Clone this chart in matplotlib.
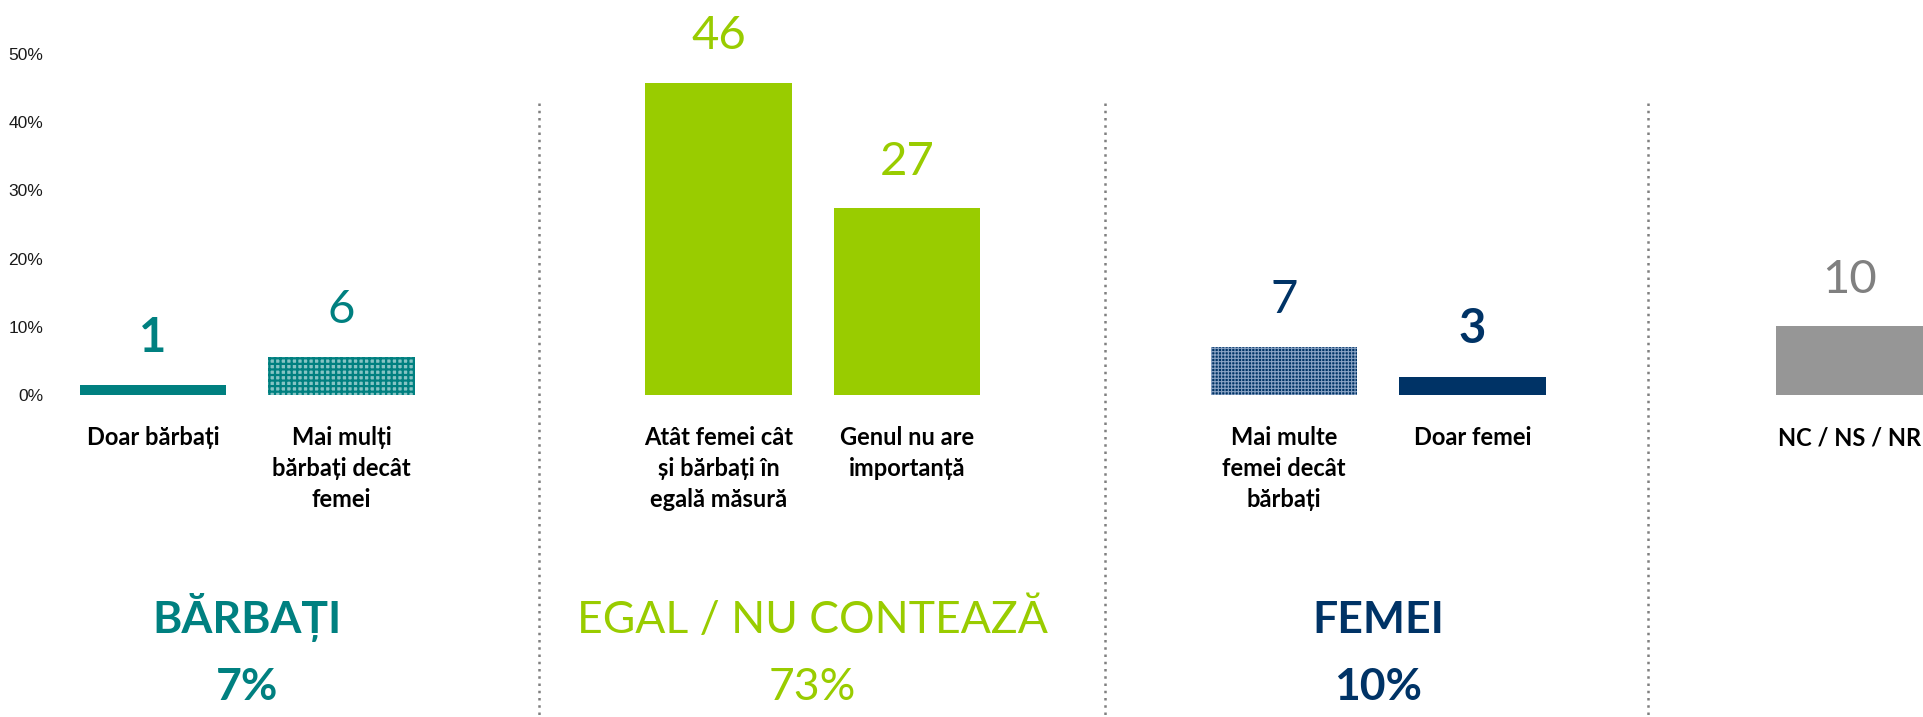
import matplotlib
matplotlib.use("Agg")
import matplotlib.pyplot as plt
import matplotlib.transforms as mtransforms
from matplotlib.lines import Line2D

# ---------------- data ----------------
categories = [
    "Doar bărbați",
    "Mai mulți\nbărbați decât\nfemei",
    "Atât femei cât\nși bărbați în\negală măsură",
    "Genul nu are\nimportanță",
    "Mai multe\nfemei decât\nbărbați",
    "Doar femei",
    "NC / NS / NR",
]
values = [1.4, 5.6, 45.8, 27.4, 7.1, 2.7, 10.1]
value_labels = ["1", "6", "46", "27", "7", "3", "10"]
group_of_category = [0, 0, 1, 1, 2, 2, 3]
group_names = ["BĂRBAȚI", "EGAL / NU CONTEAZĂ", "FEMEI"]
group_totals = ["7%", "73%", "10%"]
yticks = [0, 10, 20, 30, 40, 50]
ytick_labels = ["0%", "10%", "20%", "30%", "40%", "50%"]

# ---------------- style ----------------
TEAL = "#008080"
GREEN = "#99CC00"
NAVY = "#003366"
GREY_BAR = "#969696"
GREY_TXT = "#808080"

bar_face = [TEAL, "#86c4c4", GREEN, GREEN, NAVY, NAVY, GREY_BAR]
bar_hatch = [None, "+++", None, None, "+++++", None, None]
bar_hatch_col = [None, TEAL, None, None, "#8aa3c4", None, None]
bar_hatch_lw = [None, 1.6, None, None, 0.8, None, None]
label_col = [TEAL, TEAL, GREEN, GREEN, NAVY, NAVY, GREY_TXT]
label_bold = [True, False, False, False, False, True, False]
group_col = [TEAL, GREEN, NAVY]
group_bold = [True, False, True]

FONT = ["Lato", "DejaVu Sans"]

W, H = 1924, 717
fig = plt.figure(figsize=(W / 100, H / 100), dpi=100)
fig.patch.set_facecolor("white")

# axes placement (pixels)
ax_left_px, ax_bottom_px, ax_top_px = 60, 395, 54
ax = fig.add_axes([ax_left_px / W, 1 - ax_bottom_px / H, 1 - ax_left_px / W,
                   (ax_bottom_px - ax_top_px) / H])

positions = [i + g for i, g in enumerate(group_of_category)]
slot_px = 188.5
first_px = 153
ax.set_xlim((ax_left_px - first_px) / slot_px, (W - first_px) / slot_px)
ax.set_ylim(0, 50)

for i, (x, v) in enumerate(zip(positions, values)):
    kw = dict(color=bar_face[i], width=0.775, linewidth=0)
    if bar_hatch[i]:
        with plt.rc_context({"hatch.linewidth": bar_hatch_lw[i]}):
            b = ax.bar(x, v, hatch=bar_hatch[i], edgecolor=bar_hatch_col[i], **kw)
            for p in b:
                if hasattr(p, "set_hatch_linewidth"):
                    p.set_hatch_linewidth(bar_hatch_lw[i])
                p.set_linewidth(0)
    else:
        ax.bar(x, v, **kw)
    ax.annotate(value_labels[i], (x, v), xytext=(0, 24), textcoords="offset points",
                ha="center", va="baseline", fontsize=34, color=label_col[i],
                fontweight="bold" if label_bold[i] else "normal", family=FONT,
                annotation_clip=False)

# category labels
cat_tr = mtransforms.blended_transform_factory(ax.transData, fig.transFigure)
for x, c in zip(positions, categories):
    ax.text(x, 1 - 426 / H, c, transform=cat_tr, ha="center", va="top",
            fontsize=17, fontweight="bold", color="black", family=FONT,
            linespacing=1.41, multialignment="center")

# group headings
for g, (name, tot) in enumerate(zip(group_names, group_totals)):
    xs = [p for p, gg in zip(positions, group_of_category) if gg == g]
    xc = sum(xs) / len(xs)
    fw = "bold" if group_bold[g] else "normal"
    ax.text(xc, 1 - 633 / H, name, transform=cat_tr, ha="center", va="baseline",
            fontsize=32, fontweight=fw, color=group_col[g], family=FONT)
    ax.text(xc, 1 - 700 / H, tot, transform=cat_tr, ha="center", va="baseline",
            fontsize=32, fontweight=fw, color=group_col[g], family=FONT)

# dotted separators between groups
sep_offsets = [0.05, 0.05, -0.07]
for g in range(3):
    last = max(p for p, gg in zip(positions, group_of_category) if gg == g)
    first_next = min(p for p, gg in zip(positions, group_of_category) if gg == g + 1)
    xs = (last + first_next) / 2 + sep_offsets[g]
    ln = Line2D([xs, xs], [1 - 103 / H, 0], transform=cat_tr, color=GREY_TXT,
                linewidth=1.8, linestyle=(0, (1, 1.9)), dash_capstyle="butt",
                clip_on=False)
    ax.add_line(ln)

ax.set_yticks(yticks)
ax.set_yticklabels(ytick_labels, fontsize=12.5, family=["Liberation Sans", "DejaVu Sans"],
                   color="#1a1a1a")
ax.tick_params(axis="y", length=0, pad=12)
ax.set_xticks([])
for s in ax.spines.values():
    s.set_visible(False)
ax.patch.set_alpha(0)

fig.savefig("out.png", dpi=100, facecolor="white")
